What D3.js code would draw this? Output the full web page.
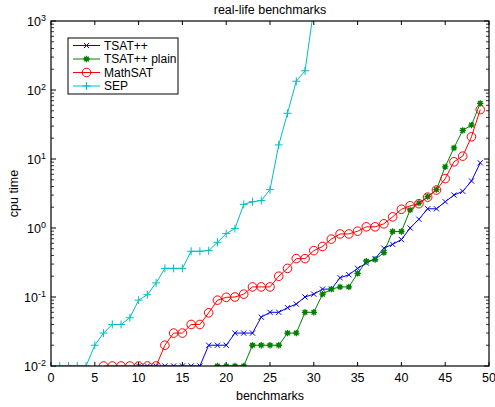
<!DOCTYPE html>
<html><head><meta charset="utf-8">
<script src="https://cdn.jsdelivr.net/npm/d3@7"></script>
<style>body{margin:0;background:#fff;} text{font-family:"Liberation Sans",Arial,Helvetica,sans-serif;}</style>
</head><body>
<svg id="c" width="495" height="407"></svg>
<script>
const tsatX = [10,11,12,13,14,15,16,17,18,19,20,21,22,23,24,25,26,27,28,29,30,31,32,33,34,35,36,37,38,39,40,41,42,43,44,45,46,47,48,49];
const tsatY = [0.01,0.01,0.01,0.01,0.01,0.01,0.01,0.01,0.02,0.02,0.02,0.03,0.03,0.03,0.051,0.06,0.06,0.07,0.079,0.10,0.11,0.13,0.13,0.19,0.21,0.26,0.31,0.36,0.51,0.58,0.68,1.0,1.34,1.9,1.9,2.4,3.0,3.4,4.8,8.8];
const plainX = [19,20,21,22,23,24,25,26,27,28,29,30,31,32,33,34,35,36,37,38,39,40,41,42,43,44,45,46,47,48,49];
const plainY = [0.01,0.01,0.01,0.01,0.02,0.02,0.02,0.02,0.03,0.03,0.06,0.06,0.11,0.13,0.14,0.14,0.22,0.33,0.35,0.44,0.89,0.89,1.83,2.3,2.85,3.6,7.7,14.5,26,31,64];
const mathX = [6,7,8,9,10,11,12,13,14,15,16,17,18,19,20,21,22,23,24,25,26,27,28,29,30,31,32,33,34,35,36,37,38,39,40,41,42,43,44,45,46,47,48,49];
const mathY = [0.01,0.01,0.01,0.01,0.01,0.01,0.01,0.02,0.03,0.03,0.04,0.04,0.059,0.09,0.099,0.1,0.11,0.14,0.14,0.14,0.2,0.26,0.36,0.36,0.47,0.54,0.69,0.82,0.82,0.9,1.04,1.04,1.15,1.45,1.87,2.1,2.25,2.8,3.55,5.2,9.1,11,21,52];
const sepX = [1,2,3,4,5,6,7,8,9,10,11,12,13,14,15,16,17,18,19,20,21,22,23,24,25,26,27,28,29,30];
const sepY = [0.01,0.01,0.01,0.01,0.02,0.03,0.04,0.04,0.05,0.09,0.108,0.16,0.26,0.26,0.26,0.46,0.46,0.47,0.62,0.83,0.98,2.2,2.4,2.5,3.6,16,46,134,190,1500];
const xTicks = [0,5,10,15,20,25,30,35,40,45,50];
const yTicks = [-2,-1,0,1,2,3];
const seriesNames = ["TSAT++","TSAT++ plain","MathSAT","SEP"];
const seriesColors = ["#0000ff","#008000","#ff0000","#00bfbf"];
const markers = ["x","star","circle","plus"];
const title = "real-life benchmarks", xLabel = "benchmarks", yLabel = "cpu time";

const svg = d3.select("#c");
const L=51, R=489, T=21, B=366;
const x = d3.scaleLinear().domain([0,50]).range([L,R]);
const y = d3.scaleLog().domain([1e-2,1e3]).range([B,T]);

svg.append("defs").append("clipPath").attr("id","clip").append("rect")
  .attr("x",L).attr("y",T).attr("width",R-L).attr("height",B-T);

// ticks inward
const g = svg.append("g");
const minorVals = [];
for (let e=-2;e<3;e++) for (let m=2;m<10;m++) minorVals.push(m*Math.pow(10,e));
minorVals.forEach(v=>{
  g.append("line").attr("x1",L).attr("x2",L+3).attr("y1",y(v)).attr("y2",y(v)).attr("stroke","#000").attr("stroke-width",0.8);
  g.append("line").attr("x1",R).attr("x2",R-3).attr("y1",y(v)).attr("y2",y(v)).attr("stroke","#000").attr("stroke-width",0.8);
});
yTicks.forEach(e=>{
  const v=Math.pow(10,e);
  g.append("line").attr("x1",L).attr("x2",L+5).attr("y1",y(v)).attr("y2",y(v)).attr("stroke","#000");
  g.append("line").attr("x1",R).attr("x2",R-5).attr("y1",y(v)).attr("y2",y(v)).attr("stroke","#000");
  const t = g.append("text").attr("x",46).attr("y",y(v)+5).attr("text-anchor","end").attr("font-size",12.5);
  t.append("tspan").text("10");
  t.append("tspan").attr("dy",-5).attr("font-size",9).text(String(e));
});
xTicks.forEach(v=>{
  g.append("line").attr("x1",x(v)).attr("x2",x(v)).attr("y1",B).attr("y2",B-4).attr("stroke","#000");
  g.append("line").attr("x1",x(v)).attr("x2",x(v)).attr("y1",T).attr("y2",T+4).attr("stroke","#000");
  g.append("text").attr("x",x(v)).attr("y",382).attr("text-anchor","middle").attr("font-size",12.5).text(v);
});

const data = [[tsatX,tsatY],[plainX,plainY],[mathX,mathY],[sepX,sepY]];
const plot = svg.append("g").attr("clip-path","url(#clip)");

function drawMarker(sel, type, color, cx, cy){
  if (type==="x"){
    const s=2.6;
    sel.append("path").attr("d",`M${cx-s},${cy-s}L${cx+s},${cy+s}M${cx-s},${cy+s}L${cx+s},${cy-s}`).attr("stroke",color).attr("stroke-width",1);
  } else if (type==="plus"){
    const s=4;
    sel.append("path").attr("d",`M${cx-s},${cy}L${cx+s},${cy}M${cx},${cy-s}L${cx},${cy+s}`).attr("stroke",color).attr("stroke-width",1);
  } else if (type==="circle"){
    sel.append("circle").attr("cx",cx).attr("cy",cy).attr("r",4.3).attr("fill","none").attr("stroke",color).attr("stroke-width",1);
  } else if (type==="star"){
    const s=3.2, d=2.3;
    sel.append("path").attr("d",`M${cx-s},${cy}L${cx+s},${cy}M${cx},${cy-s}L${cx},${cy+s}M${cx-d},${cy-d}L${cx+d},${cy+d}M${cx-d},${cy+d}L${cx+d},${cy-d}`).attr("stroke",color).attr("stroke-width",1.3);
    sel.append("rect").attr("x",cx-1.8).attr("y",cy-1.8).attr("width",3.6).attr("height",3.6).attr("fill",color);
  }
}

data.forEach(([xs,ys],i)=>{
  const pts = xs.map((v,j)=>[x(v),y(ys[j])]);
  plot.append("path").attr("d",d3.line()(pts)).attr("fill","none").attr("stroke",seriesColors[i]).attr("stroke-width",1);
  pts.forEach(p=>drawMarker(plot,markers[i],seriesColors[i],p[0],p[1]));
});

// frame
svg.append("rect").attr("x",L).attr("y",T).attr("width",R-L).attr("height",B-T).attr("fill","none").attr("stroke","#000").attr("stroke-width",1.2);

// legend
const lg = svg.append("g");
lg.append("rect").attr("x",68).attr("y",38).attr("width",110).attr("height",56).attr("fill","#fff").attr("stroke","#000").attr("stroke-width",1);
seriesNames.forEach((n,i)=>{
  const yy = 45.5 + i*13.5;
  lg.append("line").attr("x1",73).attr("x2",100).attr("y1",yy).attr("y2",yy).attr("stroke",seriesColors[i]).attr("stroke-width",1);
  drawMarker(lg,markers[i],seriesColors[i],86.5,yy);
  lg.append("text").attr("x",104).attr("y",yy+4.3).attr("font-size",12).text(n);
});

svg.append("text").attr("x",(L+R)/2).attr("y",14).attr("text-anchor","middle").attr("font-size",12.5).text(title);
svg.append("text").attr("x",(L+R)/2).attr("y",400).attr("text-anchor","middle").attr("font-size",12.5).text(xLabel);
svg.append("text").attr("transform",`translate(18,${(T+B)/2}) rotate(-90)`).attr("text-anchor","middle").attr("font-size",12.5).text(yLabel);
</script>
</body></html>
